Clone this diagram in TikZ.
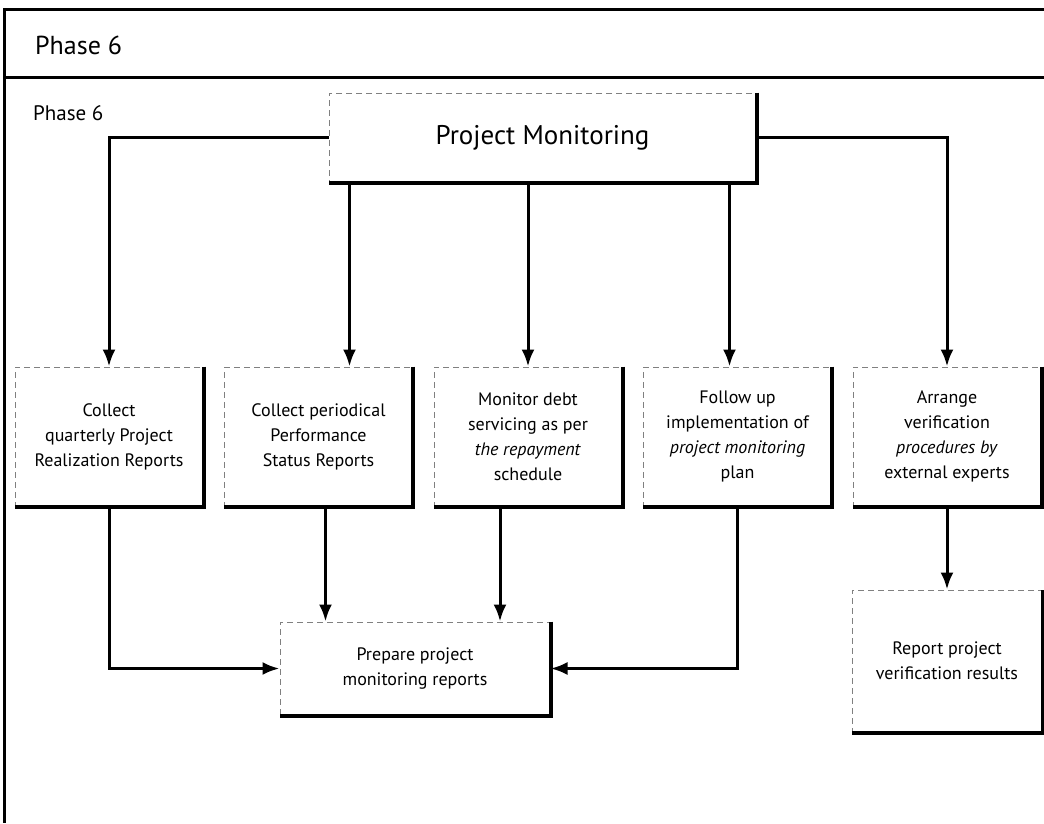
\documentclass[tikz,border=0pt]{standalone}
\usepackage{fontspec}
\setmainfont{PT Sans}
\usetikzlibrary{arrows.meta}
\tikzset{
    node distance=209.5pt, % spacing between the boxes of the middle row. Change if necessary.
    >={Latex[length=17pt,width=13pt]},
    }

\begin{document}
\begin{tikzpicture}[x=1pt, y=-1pt,
taskbox/.style={rectangle, draw=black!50, dash pattern=on 6pt off 4pt, line width=1pt, minimum width=188pt, minimum height=139pt, inner sep=0pt, align=center, font=\fontsize{18}{25}\selectfont},
edgeline/.style={line width=4pt},
connector/.style={line width=3pt},
frameline/.style={line width=3pt},
]
\useasboundingbox (0,0) rectangle (1044,823);

% frame and header
\draw[frameline] (1044,9) -- (4,9) -- (4,823);
\draw[frameline] (4,77) -- (1044,77);
\node[anchor=west, inner sep=0pt, font=\fontsize{26}{30}\selectfont] (head) at (35,45) {Phase 6};
\node[anchor=west, inner sep=0pt, font=\fontsize{21}{25}\selectfont] (phase) at (33,113) {Phase 6};

\node[taskbox, minimum width=427pt, minimum height=89pt, font=\fontsize{27}{32}\selectfont] (pm) at (542.5,137.5) {Project Monitoring};
\node[taskbox] (c1) at (109,436.5) {Collect\\quarterly Project\\Realization Reports};
\node[taskbox] (c2) [right of=c1] {Collect periodical\\Performance\\Status Reports};
\node[taskbox] (c3) [right of=c2] {Monitor debt\\servicing as per\\\textit{the repayment}\\schedule};
\node[taskbox] (c4) [right of=c3] {Follow up\\implementation of\\\textit{project monitoring}\\plan};
\node[taskbox] (c5) [right of=c4] {Arrange\\verification\\\textit{procedures by}\\external experts};
\node[taskbox, minimum width=270pt, minimum height=93pt] (prep) at (415,668.5) {Prepare project\\monitoring reports};
\node[taskbox, minimum width=190pt, minimum height=142pt] (rep) at (947,661) {Report project\\verification results};

% heavy right and bottom edges
\draw[edgeline] (pm.north east) -- (pm.south east) -- (pm.south west);
\draw[edgeline] (c1.north east) -- (c1.south east) -- (c1.south west);
\draw[edgeline] (c2.north east) -- (c2.south east) -- (c2.south west);
\draw[edgeline] (c3.north east) -- (c3.south east) -- (c3.south west);
\draw[edgeline] (c4.north east) -- (c4.south east) -- (c4.south west);
\draw[edgeline] (c5.north east) -- (c5.south east) -- (c5.south west);
\draw[edgeline] (prep.north east) -- (prep.south east) -- (prep.south west);
\draw[edgeline] (rep.north east) -- (rep.south east) -- (rep.south west);

\coordinate (pmleft) at ([xshift=21pt]pm.south west);
\coordinate (pmright) at ([xshift=-27pt]pm.south east);
\coordinate (c2out) at ([xshift=7pt]c2.south);
\coordinate (c3out) at ([xshift=-28pt]c3.south);

\draw[connector,->] (pm.west) -| (c1.north);
\draw[connector,->] (pm.east) -| (c5.north);
\draw[connector,->] (pmleft) -- (pmleft |- c2.north);
\draw[connector,->] (c3.north |- pm.south) -- (c3.north);
\draw[connector,->] (pmright) -- (pmright |- c4.north);

\draw[connector,->] (c1.south) |- (prep.west);
\draw[connector,->] (c2out) -- (c2out |- prep.north);
\draw[connector,->] (c3out) -- (c3out |- prep.north);
\draw[connector,->] (c4.south) |- (prep.east);
\draw[connector,->] (c5.south) -- (rep.north);

\end{tikzpicture}
\end{document}
